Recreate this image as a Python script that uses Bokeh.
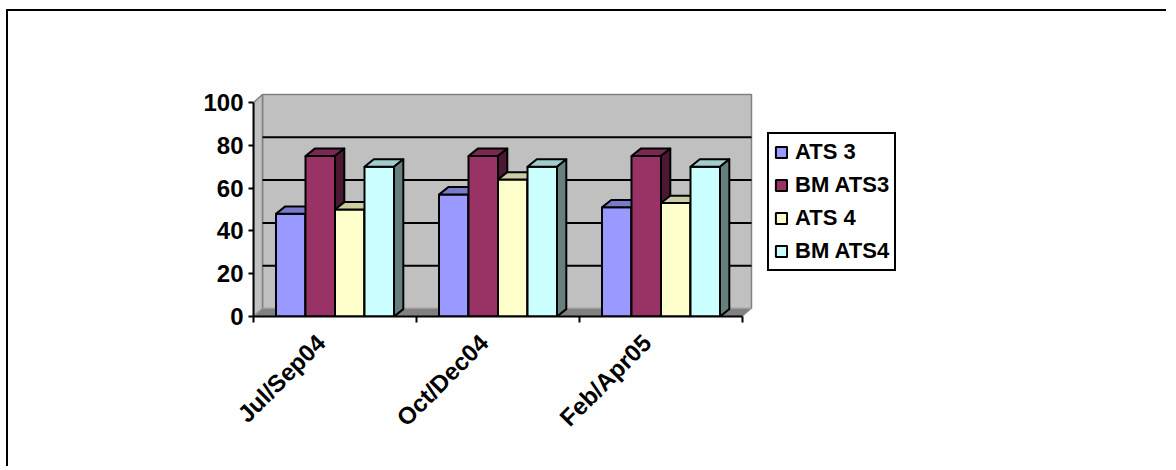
import numpy as np
from bokeh.plotting import figure
from bokeh.models import Range1d, FixedTicker, Legend, LegendItem, ColumnDataSource
from bokeh.embed import file_html
from bokeh.resources import INLINE

# ---------------- data ----------------
categories = ["Jul/Sep04", "Oct/Dec04", "Feb/Apr05"]
series_names = ["ATS 3", "BM ATS3", "ATS 4", "BM ATS4"]
ats3 = [48, 57, 51]
bm_ats3 = [75, 75, 75]
ats4 = [50, 64, 53]
bm_ats4 = [70, 70, 70]
y_ticks = [0, 20, 40, 60, 80, 100]

series_values = [ats3, bm_ats3, ats4, bm_ats4]
front_colors = ["#9999FF", "#993366", "#FFFFCC", "#CCFFFF"]


def shade(hex_color, f):
    h = hex_color.lstrip("#")
    r, g, b = (int(h[i:i + 2], 16) for i in (0, 2, 4))
    return "#%02X%02X%02X" % (int(r * f), int(g * f), int(b * f))


top_colors = [shade(c, 0.8) for c in front_colors]
side_colors = [shade(c, 0.5) for c in front_colors]

# ---------------- layout constants ----------------
W, H = 1160, 457
LEFT, BOTTOM, TOP = 245, 152, 0
PX_X = 163.0    # px per category
PX_Y = 2.14     # px per value unit
DX, DY = 9 / PX_X, 8 / PX_Y          # wall depth (data units)
BDX, BDY = 9.3 / PX_X, 7.4 / PX_Y    # bar depth
GROUP = 0.724
BW = GROUP / len(series_names)

n_cat = len(categories)
y_max = y_ticks[-1]

FONT = "Liberation Sans"

p = figure(width=W, height=H,
           x_range=Range1d(0, (W - LEFT) / PX_X),
           y_range=Range1d(0, (H - BOTTOM - TOP) / PX_Y),
           output_backend="svg", toolbar_location=None,
           min_border_left=LEFT, min_border_right=0,
           min_border_top=TOP, min_border_bottom=BOTTOM)
p.outline_line_color = None
p.xgrid.visible = False
p.ygrid.visible = False
p.background_fill_color = "white"
p.border_fill_color = "white"
# chart-area frame (only top and left edges are visible in the reference)
p.styles = {"border-top": "2px solid black", "border-left": "2px solid black",
            "margin-left": "6px", "margin-top": "9px"}

# ---------------- walls & floor ----------------
wall_fill = "#C0C0C0"
wall_line = "#808080"
p.patch([DX, n_cat + DX, n_cat + DX, DX], [DY, DY, y_max + DY, y_max + DY],
        fill_color=wall_fill, line_color=wall_line, line_width=1.5)
p.patch([0, DX, DX, 0], [0, DY, y_max + DY, y_max],
        fill_color=wall_fill, line_color=wall_line, line_width=1.5)
grid_vals = y_ticks[1:-1]
p.segment(x0=[DX] * len(grid_vals), x1=[n_cat + DX] * len(grid_vals),
          y0=[v + DY for v in grid_vals], y1=[v + DY for v in grid_vals],
          line_color="black", line_width=2)
p.patch([0, n_cat, n_cat + DX, DX], [0, 0, DY, DY],
        fill_color="#808080", line_color="#A0A0A0", line_width=1)

# ---------------- bars ----------------
legend_items = []
for i, (name, vals) in enumerate(zip(series_names, series_values)):
    lefts = [c + 0.5 - GROUP / 2 + i * BW for c in range(n_cat)]
    rights = [l + BW for l in lefts]
    src = ColumnDataSource(dict(left=lefts, right=rights, top=vals,
                                bottom=[0] * n_cat))
    front = p.quad(left="left", right="right", bottom="bottom", top="top",
                   source=src, fill_color=front_colors[i],
                   line_color="black", line_width=2)
    top_xs = [[l, r, r + BDX, l + BDX] for l, r in zip(lefts, rights)]
    top_ys = [[v, v, v + BDY, v + BDY] for v in vals]
    p.patches(top_xs, top_ys, fill_color=top_colors[i],
              line_color="black", line_width=2, line_join="round")
    side_xs = [[r, r + BDX, r + BDX, r] for r in rights]
    side_ys = [[0, BDY, v + BDY, v] for v in vals]
    p.patches(side_xs, side_ys, fill_color=side_colors[i],
              line_color="black", line_width=2, line_join="round")
    legend_items.append(LegendItem(label=name, renderers=[front]))

# ---------------- axes ----------------
yax = p.yaxis[0]
yax.ticker = FixedTicker(ticks=y_ticks)
yax.bounds = (0, y_max)
yax.axis_line_width = 2
yax.axis_line_color = "black"
yax.major_tick_line_width = 2
yax.major_tick_line_color = "black"
yax.major_tick_out = 5
yax.major_tick_in = 0
yax.minor_tick_line_color = None
yax.major_label_text_font = FONT
yax.major_label_text_font_style = "bold"
yax.major_label_text_font_size = "24px"
yax.major_label_text_color = "black"
yax.major_label_standoff = 5

xax = p.xaxis[0]
centers = [c + 0.5 for c in range(n_cat)]
xax.ticker = FixedTicker(ticks=centers, minor_ticks=list(range(n_cat + 1)))
xax.bounds = (0, n_cat)
xax.major_label_overrides = {c: lab + "\u00a0\u00a0\u00a0" for c, lab in zip(centers, categories)}
xax.axis_line_width = 2
xax.axis_line_color = "black"
xax.major_tick_line_color = None
xax.major_tick_out = 6
xax.minor_tick_line_color = "black"
xax.minor_tick_line_width = 2
xax.minor_tick_out = 6
xax.minor_tick_in = 0
xax.major_label_orientation = np.pi / 4
xax.major_label_text_font = FONT
xax.major_label_text_font_style = "bold"
xax.major_label_text_font_size = "24px"
xax.major_label_text_color = "black"
xax.major_label_standoff = 2

# ---------------- legend ----------------
legend = Legend(items=legend_items, location=(514, 45))
legend.border_line_color = "black"
legend.border_line_alpha = 1
legend.border_line_width = 2
legend.background_fill_color = "white"
legend.background_fill_alpha = 1
legend.label_text_font = FONT
legend.label_text_font_style = "bold"
legend.label_text_font_size = "22px"
legend.label_text_color = "black"
legend.glyph_width = 14
legend.glyph_height = 14
legend.label_standoff = 7
legend.padding = 5
legend.spacing = 7
legend.margin = 0
legend.label_height = 24
p.add_layout(legend)

open("out.html", "w").write(file_html(p, INLINE))
